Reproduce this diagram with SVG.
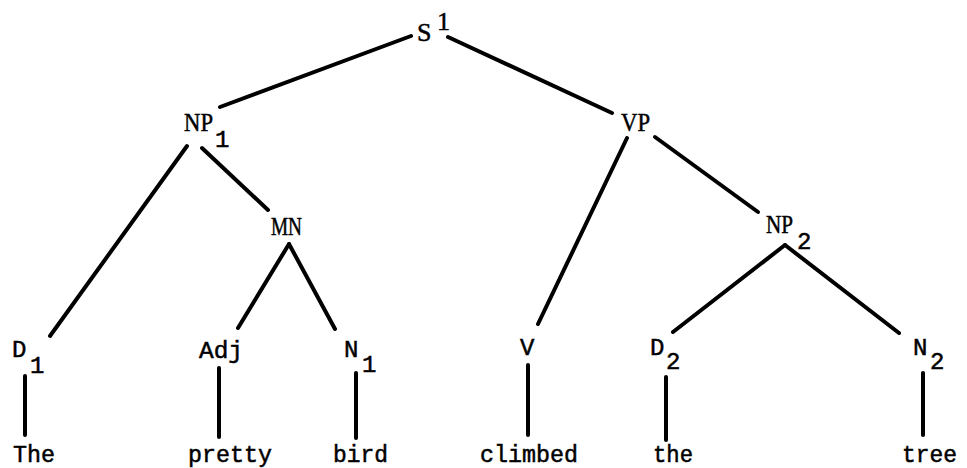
<svg xmlns="http://www.w3.org/2000/svg" width="967" height="468" viewBox="0 0 967 468">
<style>
.e{stroke:#000;stroke-width:4;stroke-linecap:round;fill:none}
.s{font-family:"Liberation Serif",serif;font-size:26px;fill:#000;stroke:#000;stroke-width:0.5}
.m{font-family:"Liberation Mono",monospace;font-size:24px;fill:#000;stroke:#000;stroke-width:0.5}
</style>
<rect width="967" height="468" fill="#fff"/>
<g id="connectors">
<line class="e" x1="411" y1="36" x2="220" y2="107"/>
<line class="e" x1="448" y1="37" x2="612" y2="113"/>
<line class="e" x1="187" y1="146" x2="50" y2="336"/>
<line class="e" x1="202" y1="148" x2="268" y2="210"/>
<line class="e" x1="289" y1="244" x2="238" y2="328"/>
<line class="e" x1="289" y1="244" x2="335" y2="329"/>
<line class="e" x1="627" y1="138" x2="538" y2="324"/>
<line class="e" x1="655" y1="137" x2="758" y2="212"/>
<line class="e" x1="785" y1="245" x2="673" y2="332"/>
<line class="e" x1="785" y1="245" x2="899" y2="333"/>
<line class="e" x1="25" y1="376" x2="25" y2="435"/>
<line class="e" x1="219" y1="368" x2="219" y2="437"/>
<line class="e" x1="356" y1="373" x2="356" y2="438"/>
<line class="e" x1="528" y1="365" x2="528" y2="435"/>
<line class="e" x1="666" y1="377" x2="666" y2="440"/>
<line class="e" x1="923" y1="373" x2="923" y2="435"/>
</g>
<g id="S"><text class="s" x="417" y="41">S</text><text class="s" x="437" y="30">1</text></g>
<g id="NP1"><text class="s" x="184" y="131" textLength="29" lengthAdjust="spacingAndGlyphs">NP</text><text class="m" x="215" y="147">1</text></g>
<g id="VP"><text class="s" x="621" y="131" textLength="29" lengthAdjust="spacingAndGlyphs">VP</text></g>
<g id="MN"><text class="s" x="271" y="235" textLength="31" lengthAdjust="spacingAndGlyphs">MN</text></g>
<g id="NP2"><text class="s" x="766" y="233" textLength="27" lengthAdjust="spacingAndGlyphs">NP</text><text class="m" x="797" y="249">2</text></g>
<g id="D1"><text class="m" x="12" y="357">D</text><text class="m" x="30" y="373">1</text></g>
<g id="Adj"><text class="m" x="199" y="358" textLength="44" lengthAdjust="spacingAndGlyphs">Adj</text></g>
<g id="N1"><text class="m" x="344" y="357">N</text><text class="m" x="362" y="372">1</text></g>
<g id="V"><text class="m" x="520" y="355">V</text></g>
<g id="D2"><text class="m" x="650" y="355">D</text><text class="m" x="666" y="369">2</text></g>
<g id="N2"><text class="m" x="913" y="355">N</text><text class="m" x="930" y="369">2</text></g>
<g id="The"><text class="m" x="13" y="462" textLength="42" lengthAdjust="spacingAndGlyphs">The</text></g>
<g id="pretty"><text class="m" x="188" y="462" textLength="84" lengthAdjust="spacingAndGlyphs">pretty</text></g>
<g id="bird"><text class="m" x="333" y="462" textLength="55" lengthAdjust="spacingAndGlyphs">bird</text></g>
<g id="climbed"><text class="m" x="480" y="462" textLength="98" lengthAdjust="spacingAndGlyphs">climbed</text></g>
<g id="the"><text class="m" x="653" y="462" textLength="40" lengthAdjust="spacingAndGlyphs">the</text></g>
<g id="tree"><text class="m" x="902" y="462" textLength="55" lengthAdjust="spacingAndGlyphs">tree</text></g>
</svg>
